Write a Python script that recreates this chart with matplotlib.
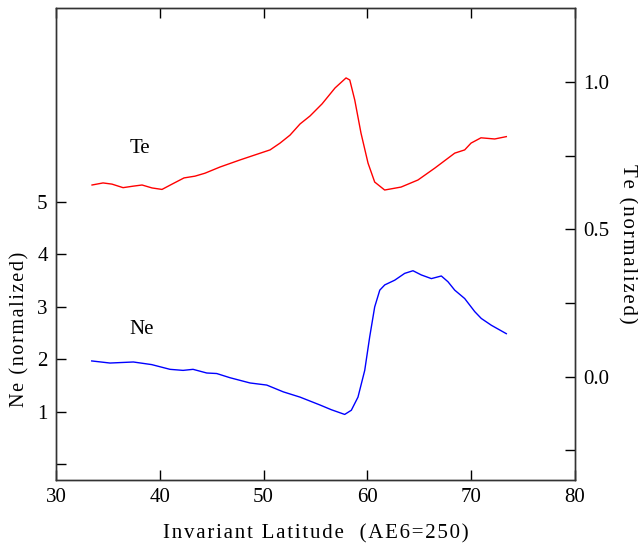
import matplotlib.pyplot as plt

plt.rcParams['font.family'] = ['Liberation Serif', 'DejaVu Serif']

# Te (normalized) vs invariant latitude
te_lat = [33.47, 34.53, 35.39, 36.46, 37.42, 38.29, 39.25, 40.21, 41.18, 42.33,
          43.39, 44.35, 45.80, 47.73, 49.17, 50.62, 51.58, 52.54, 53.51, 54.47,
          55.63, 56.88, 57.94, 58.30, 58.78, 59.38, 60.06, 60.70, 61.66, 63.24,
          64.87, 66.48, 68.41, 69.37, 69.98, 70.94, 72.26, 73.38]
te_val = [0.650, 0.657, 0.653, 0.641, 0.646, 0.650, 0.640, 0.635, 0.653, 0.674,
          0.680, 0.690, 0.711, 0.735, 0.752, 0.769, 0.792, 0.819, 0.857, 0.884,
          0.925, 0.979, 1.013, 1.006, 0.938, 0.826, 0.724, 0.660, 0.633, 0.643,
          0.667, 0.707, 0.758, 0.769, 0.792, 0.810, 0.806, 0.814]

# Ne (normalized) vs invariant latitude
ne_lat = [33.44, 35.20, 37.45, 39.22, 40.98, 42.24, 43.20, 44.52, 45.48, 46.76,
          48.69, 50.30, 51.90, 53.51, 55.43, 56.52, 57.81, 58.45, 59.09, 59.74,
          60.22, 60.70, 61.19, 61.67, 62.63, 63.59, 64.39, 65.19, 66.16, 67.12,
          67.76, 68.41, 69.37, 70.34, 70.97, 71.94, 73.38]
ne_val = [1.97, 1.93, 1.95, 1.90, 1.81, 1.79, 1.81, 1.74, 1.73, 1.65,
          1.55, 1.51, 1.38, 1.28, 1.13, 1.04, 0.95, 1.03, 1.28, 1.79,
          2.43, 3.00, 3.32, 3.42, 3.51, 3.64, 3.69, 3.61, 3.54, 3.59,
          3.48, 3.32, 3.16, 2.91, 2.78, 2.65, 2.49]


def spaced(s):
    # the original labels are letter-spaced
    return '\u200a'.join(s)


fig = plt.figure(figsize=(6.38, 5.45), dpi=100)
ax = fig.add_axes([0.0878, 0.1193, 0.8135, 0.866])
ax2 = ax.twinx()

ax.plot(ne_lat, ne_val, color='#0000ff', lw=1.0)
ax2.plot(te_lat, te_val, color='#ff0000', lw=1.0)

ax.set_xlim(30, 80)
ax.set_ylim(-0.3, 8.7)
ax2.set_ylim(-0.35, 1.25)

ax.set_xticks([30, 40, 50, 60, 70, 80])
ax.set_yticks([0, 1, 2, 3, 4, 5])
ax.set_yticklabels(['', '1', '2', '3', '4', '5'])
ax2.set_yticks([-0.25, 0.0, 0.25, 0.5, 0.75, 1.0])
ax2.set_yticklabels(['', '0.0', '', '0.5', '', '1.0'])

ax.tick_params(axis='both', direction='in', length=7, width=1, labelsize=15,
               top=True, pad=6)
ax2.tick_params(axis='y', direction='in', length=7, width=1, labelsize=15, pad=6)

for a in (ax, ax2):
    for s in a.spines.values():
        s.set_linewidth(1.0)
        s.set_color('#333333')

ax.set_xlabel(spaced('Invariant Latitude') + '   ' + spaced('(AE6=250)'),
              fontsize=15, labelpad=12)
ax.set_ylabel(spaced('Ne (normalized)'), fontsize=14.5)
ax.yaxis.set_label_coords(-0.052, 0.32)
ax2.set_ylabel(spaced('Te (normalized)'), fontsize=15, rotation=270, labelpad=20)

ax2.text(38.1, 0.775, 'Te', fontsize=15, ha='center', va='center')
ax.text(38.2, 2.56, 'Ne', fontsize=15, ha='center', va='center')

fig.savefig('out.png', dpi=100)
